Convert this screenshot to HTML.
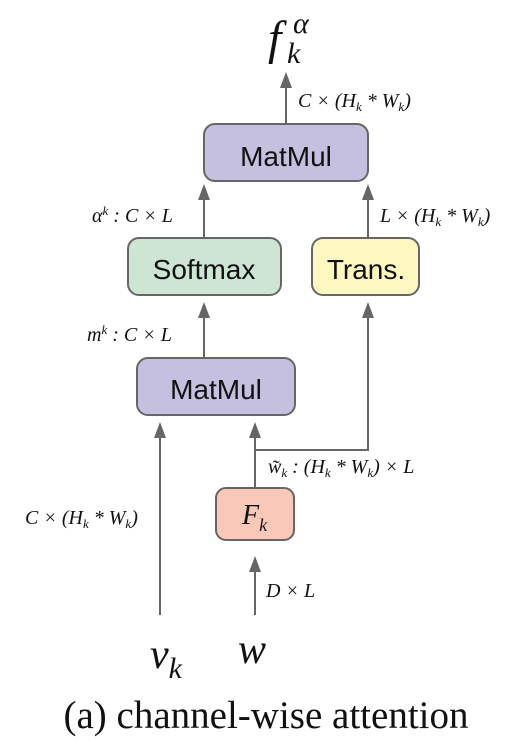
<!DOCTYPE html>
<html><head><meta charset="utf-8"><style>
body{margin:0;background:#fff}
svg{display:block}
.m{font-family:"Liberation Serif",serif;font-style:italic;fill:#111}
.s{font-family:"Liberation Sans",sans-serif;fill:#111}
</style></head><body>
<svg width="532" height="745" viewBox="0 0 532 745">
<g stroke="#666" stroke-width="2" fill="none">
<line x1="286" y1="124" x2="286" y2="84"/>
<line x1="204" y1="238" x2="204" y2="196"/>
<line x1="368" y1="238" x2="368" y2="196"/>
<line x1="204" y1="358" x2="204" y2="314"/>
<polyline points="255,450 368,450 368,314"/>
<line x1="255" y1="488" x2="255" y2="434"/>
<line x1="160" y1="615" x2="160" y2="434"/>
<line x1="255" y1="615" x2="255" y2="568"/>
</g>
<g fill="#666">
<polygon points="280,88 286,72 292,88"/>
<polygon points="198,200 204,184 210,200"/>
<polygon points="362,200 368,184 374,200"/>
<polygon points="198,318 204,302 210,318"/>
<polygon points="362,318 368,302 374,318"/>
<polygon points="249,438 255,422 261,438"/>
<polygon points="154,438 160,422 166,438"/>
<polygon points="249,572 255,556 261,572"/>
</g>
<g stroke="#666" stroke-width="2">
<rect x="204" y="124" width="164" height="57" rx="11" fill="#c5bfe0"/>
<rect x="128" y="238" width="153" height="57" rx="11" fill="#cde5d2"/>
<rect x="312" y="238" width="107" height="57" rx="11" fill="#fdf7c0"/>
<rect x="137" y="358" width="158" height="57" rx="11" fill="#c5bfe0"/>
<rect x="216" y="488" width="78" height="52" rx="10" fill="#f9c8b6"/>
</g>
<text class="s" x="286" y="166" font-size="28" text-anchor="middle">MatMul</text>
<text class="s" x="204" y="279" font-size="28" text-anchor="middle">Softmax</text>
<text class="s" x="366" y="279" font-size="28" text-anchor="middle">Trans.</text>
<text class="s" x="216" y="399" font-size="28" text-anchor="middle">MatMul</text>
<text class="m" x="242" y="524" font-size="28">F<tspan font-size="18" dy="7">k</tspan></text>
<g>
<text class="m" x="268" y="54" font-size="48">f</text>
<text class="m" x="287" y="63" font-size="30">k</text>
<text class="m" x="293" y="33" font-size="30">α</text>
</g>
<text class="m" x="298" y="107" font-size="20">C × (H<tspan font-size="13" dy="4">k</tspan><tspan dy="-4"> * W</tspan><tspan font-size="13" dy="4">k</tspan><tspan dy="-4">)</tspan></text>
<text class="m" x="92" y="222" font-size="20">α<tspan font-size="13" dy="-7">k</tspan><tspan dy="7"> : C × L</tspan></text>
<text class="m" x="380" y="222" font-size="20">L × (H<tspan font-size="13" dy="4">k</tspan><tspan dy="-4"> * W</tspan><tspan font-size="13" dy="4">k</tspan><tspan dy="-4">)</tspan></text>
<text class="m" x="87" y="341" font-size="20">m<tspan font-size="13" dy="-7">k</tspan><tspan dy="7"> : C × L</tspan></text>
<text class="m" x="268" y="473" font-size="20">w̃<tspan font-size="13" dy="4">k</tspan><tspan dy="-4"> : (H</tspan><tspan font-size="13" dy="4">k</tspan><tspan dy="-4"> * W</tspan><tspan font-size="13" dy="4">k</tspan><tspan dy="-4">) × L</tspan></text>
<text class="m" x="25" y="524" font-size="20">C × (H<tspan font-size="13" dy="4">k</tspan><tspan dy="-4"> * W</tspan><tspan font-size="13" dy="4">k</tspan><tspan dy="-4">)</tspan></text>
<text class="m" x="266" y="597" font-size="20">D × L</text>
<text class="m" x="150" y="668" font-size="42">v<tspan font-size="30" dy="10">k</tspan></text>
<text class="m" x="238" y="663" font-size="42">w</text>
<text x="266" y="728" font-size="39" text-anchor="middle" font-family="Liberation Serif, serif" fill="#111">(a) channel-wise attention</text>
</svg>
</body></html>
